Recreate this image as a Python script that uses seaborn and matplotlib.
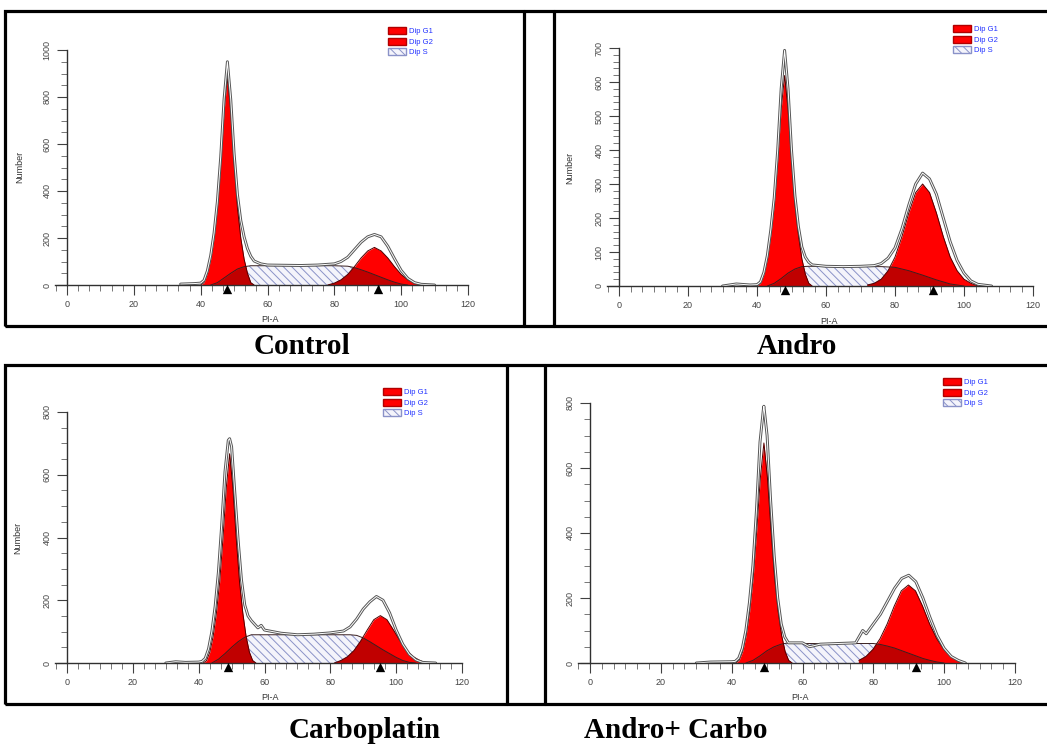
import numpy as np
import matplotlib
matplotlib.use("Agg")
import matplotlib.pyplot as plt
import seaborn as sns
from matplotlib.patches import Patch, Rectangle
from matplotlib.lines import Line2D
from matplotlib.ticker import MultipleLocator, AutoMinorLocator

# ---- data (PI-A vs Number) ----
# Control
ctrl_g1_x = [40, 41, 42, 43, 44, 45, 46, 47, 48, 49, 50, 51, 52, 53, 54, 55, 56]
ctrl_g1_y = [0, 10, 50, 110, 200, 330, 520, 740, 885, 740, 520, 330, 200, 110, 50, 10, 0]
ctrl_s_x = [43, 45, 47, 49, 51, 53, 55, 60, 70, 80, 84, 86, 88, 90, 92, 94, 96, 98, 100, 102]
ctrl_s_y = [0, 10, 30, 50, 68, 78, 82, 82, 82, 82, 80, 74, 65, 55, 44, 33, 22, 12, 4, 0]
ctrl_g2_x = [78, 80, 82, 84, 86, 88, 90, 92, 94, 96, 98, 100, 102, 104, 106]
ctrl_g2_y = [0, 8, 22, 45, 78, 115, 145, 160, 145, 115, 78, 45, 22, 8, 0]
ctrl_h_x = [34, 38, 40, 41, 42, 43, 44, 45, 46, 47, 48, 49, 50, 51, 52, 53, 54, 55, 56, 58, 60, 65,
            70, 75, 80, 82, 84, 86, 88, 90, 92, 94, 96, 98, 100, 102, 104, 106, 110]
ctrl_h_y = [4, 6, 8, 20, 60, 125, 220, 355, 545, 790, 950, 790, 560, 385, 275, 205, 155, 122, 102, 90, 85, 84,
            83, 85, 90, 100, 118, 150, 182, 205, 215, 205, 165, 112, 62, 28, 10, 3, 0]
ctrl_marks = [48, 93]

# Andro
andro_g1_x = [40, 41, 42, 43, 44, 45, 46, 47, 48, 49, 50, 51, 52, 53, 54, 55, 56]
andro_g1_y = [0, 8, 35, 80, 150, 240, 370, 520, 619, 520, 370, 240, 150, 80, 35, 8, 0]
andro_s_x = [43, 45, 47, 49, 51, 53, 55, 60, 70, 76, 80, 84, 88, 92, 96, 100]
andro_s_y = [0, 8, 22, 38, 50, 57, 58, 57, 57, 57, 55, 45, 32, 18, 6, 0]
andro_g2_x = [72, 74, 76, 78, 80, 82, 84, 86, 88, 90, 92, 94, 96, 98, 100, 102, 104]
andro_g2_y = [3, 8, 20, 45, 85, 145, 215, 275, 300, 275, 215, 145, 85, 45, 20, 8, 0]
andro_h_x = [30, 34, 38, 40, 41, 42, 43, 44, 45, 46, 47, 48, 49, 50, 51, 52, 53, 54, 55, 56, 60, 65, 70,
             74, 76, 78, 80, 82, 84, 86, 88, 90, 92, 94, 96, 98, 100, 102, 104, 108]
andro_h_y = [0, 6, 3, 4, 12, 40, 90, 165, 260, 400, 580, 693, 580, 400, 265, 175, 115, 85, 70, 62, 58, 57, 58,
             60, 66, 82, 112, 168, 238, 300, 332, 315, 270, 200, 130, 75, 38, 15, 5, 0]
andro_marks = [48, 91]

# Carboplatin
carbo_g1_x = [41.4, 42.4, 43.4, 44.4, 45.4, 46.4, 47.4, 48.4, 49.4, 50.4, 51.4, 52.4, 53.4, 54.4, 55.4, 56.4, 57.4]
carbo_g1_y = [0, 8, 35, 85, 160, 260, 400, 560, 667, 560, 400, 260, 160, 85, 35, 8, 0]
carbo_s_x = [44, 46, 48, 50, 52, 54, 56, 60, 70, 80, 86, 88, 90, 92, 94, 96, 98, 100, 102, 104, 106]
carbo_s_y = [0, 12, 30, 50, 68, 82, 90, 90, 90, 90, 90, 88, 80, 68, 55, 42, 30, 18, 8, 2, 0]
carbo_g2_x = [81.2, 83.2, 85.2, 87.2, 89.2, 91.2, 93.2, 95.2, 97.2, 99.2, 101.2, 103.2, 105.2, 107.2, 109.2]
carbo_g2_y = [0, 8, 20, 40, 70, 105, 138, 151, 138, 105, 70, 40, 20, 8, 0]
carbo_h_x = [30, 33, 36, 40, 41, 42, 43, 44, 45, 46, 47, 48, 49, 49.4, 50, 51, 52, 53, 54, 55, 56, 58,
             59, 60, 65, 70, 75, 80, 84, 86, 88, 90, 92, 94, 96, 98, 100, 102, 104, 106, 108, 112]
carbo_h_y = [0, 4, 2, 3, 5, 15, 45, 100, 180, 290, 440, 610, 710, 715, 690, 540, 390, 265, 185, 150, 135, 112,
             120, 105, 95, 90, 92, 96, 102, 115, 140, 172, 195, 212, 200, 160, 105, 60, 28, 10, 2, 0]
carbo_marks = [49, 95]

# Andro + Carbo
combo_g1_x = [41.1, 42.1, 43.1, 44.1, 45.1, 46.1, 47.1, 48.1, 49.1, 50.1, 51.1, 52.1, 53.1, 54.1, 55.1, 56.1, 57.1]
combo_g1_y = [0, 8, 35, 85, 160, 265, 410, 570, 677, 570, 410, 265, 160, 85, 35, 8, 0]
combo_s_x = [44, 46, 48, 50, 52, 54, 56, 60, 70, 80, 82, 84, 86, 88, 90, 92, 94, 96, 98, 100]
combo_s_y = [0, 8, 22, 38, 50, 58, 62, 60, 60, 60, 57, 52, 46, 38, 30, 22, 14, 8, 3, 0]
combo_g2_x = [75.9, 77.9, 79.9, 81.9, 83.9, 85.9, 87.9, 89.9, 91.9, 93.9, 95.9, 97.9, 99.9, 101.9, 103.9, 105.9]
combo_g2_y = [8, 20, 42, 75, 120, 175, 222, 240, 222, 175, 120, 75, 42, 20, 8, 0]
combo_h_x = [30, 34, 40, 41, 42, 43, 44, 45, 46, 47, 48, 49, 49.1, 50, 51, 52, 53, 54, 55, 56, 60, 62,
             65, 70, 75, 77, 78, 80, 82, 84, 86, 88, 90, 92, 94, 96, 98, 100, 102, 104, 106]
combo_h_y = [0, 3, 4, 5, 15, 45, 100, 185, 300, 470, 680, 785, 790, 700, 500, 330, 200, 120, 80, 62, 62, 50,
             58, 60, 62, 100, 90, 120, 150, 190, 230, 260, 270, 250, 200, 140, 85, 45, 20, 8, 0]
combo_marks = [49, 92]

panel_names = ["Control", "Andro", "Carboplatin", "Andro+ Carbo"]
legend_labels = ["Dip G1", "Dip G2", "Dip S"]

RED = "#ff0000"
DARK = "#c00000"
HATCH = "#8a92c8"
HATCH_BG = "#f4f4fb"

sns.set_style("ticks")
plt.rcParams["font.family"] = ["Liberation Sans", "DejaVu Sans"]
plt.rcParams["hatch.linewidth"] = 0.7

W, H = 1047, 748
fig = plt.figure(figsize=(W / 100, H / 100), dpi=100)


def add_axes(px0, px120, py0, pytop):
    sx = (px120 - px0) / 120
    left = px0 - 3.5 * sx
    return fig.add_axes([left / W, 1 - py0 / H, (px120 - left) / W, (py0 - pytop) / H])


def draw_panel(ax, g1x, g1y, sx, sy, g2x, g2y, hx, hy, marks, ymax, major, nminor):
    ax.set_xlim(-3.5, 120)
    ax.set_ylim(0, ymax)
    ax.fill_between(sx, 0, sy, facecolor=HATCH_BG, edgecolor=HATCH, hatch="\\\\\\\\", lw=0)
    g1_fill = ax.fill_between(g1x, 0, g1y, color=RED, lw=0)
    g2_fill = ax.fill_between(g2x, 0, g2y, color=RED, lw=0)
    # S phase seen through the G1 / G2 peaks is darker red
    for f in (g1_fill, g2_fill):
        d = ax.fill_between(sx, 0, sy, color=DARK, lw=0)
        d.set_clip_path(f.get_paths()[0], ax.transData)
    sns.lineplot(x=sx, y=sy, ax=ax, color="#3a2020", lw=0.7, sort=False)
    sns.lineplot(x=g1x, y=g1y, ax=ax, color="#500000", lw=0.7, sort=False)
    sns.lineplot(x=g2x, y=g2y, ax=ax, color="#500000", lw=0.7, sort=False)
    # raw histogram + fit drawn as a double outline
    sns.lineplot(x=hx, y=hy, ax=ax, color="#555555", lw=2.1, sort=False)
    sns.lineplot(x=hx, y=hy, ax=ax, color="white", lw=0.7, sort=False)
    sns.scatterplot(x=marks, y=[-0.017 * ymax] * len(marks), ax=ax, marker="^", s=45,
                    color="black", linewidth=0, clip_on=False, zorder=6)

    sns.despine(ax=ax)
    ax.spines["left"].set_position(("data", 0))
    ax.spines["left"].set_bounds(0, ymax)
    for sp in ("left", "bottom"):
        ax.spines[sp].set_color("#303030")
        ax.spines[sp].set_linewidth(1.0)
    ax.xaxis.set_major_locator(MultipleLocator(20))
    ax.xaxis.set_minor_locator(AutoMinorLocator(6))
    ax.yaxis.set_major_locator(MultipleLocator(major))
    ax.yaxis.set_minor_locator(AutoMinorLocator(nminor))
    ax.tick_params(which="major", length=7, width=0.8, color="#404040", labelsize=6.5,
                   labelcolor="#444444", pad=4)
    ax.tick_params(which="minor", length=4, width=0.6, color="#606060")
    ax.tick_params(axis="y", labelrotation=90)
    for lab in ax.get_yticklabels():
        lab.set_va("center")
    ax.set_xlabel("")
    ax.set_ylabel("")
    ax.patch.set_alpha(0)


def add_legend(ax, px, py):
    handles = [Patch(facecolor=RED, edgecolor="#b00000", label=legend_labels[0]),
               Patch(facecolor=RED, edgecolor="#b00000", label=legend_labels[1]),
               Patch(facecolor=HATCH_BG, edgecolor=HATCH, hatch="\\\\\\\\", label=legend_labels[2])]
    ax.legend(handles=handles, loc="upper left", bbox_to_anchor=(px / W, 1 - py / H),
              bbox_transform=fig.transFigure, frameon=False, fontsize=5.5, labelcolor="#2030ff",
              handlelength=2.3, handleheight=1.1, labelspacing=0.3, handletextpad=0.5,
              borderpad=0, borderaxespad=0)


def add_text(px, py, s, **kw):
    fig.text(px / W, 1 - py / H, s, **kw)


ax1 = add_axes(67, 468, 285, 50)
draw_panel(ax1, ctrl_g1_x, ctrl_g1_y, ctrl_s_x, ctrl_s_y, ctrl_g2_x, ctrl_g2_y,
           ctrl_h_x, ctrl_h_y, ctrl_marks, 1000, 200, 4)
add_legend(ax1, 388, 27)

ax2 = add_axes(619, 1033, 286, 48)
draw_panel(ax2, andro_g1_x, andro_g1_y, andro_s_x, andro_s_y, andro_g2_x, andro_g2_y,
           andro_h_x, andro_h_y, andro_marks, 700, 100, 5)
add_legend(ax2, 953, 25)

ax3 = add_axes(67, 462, 663, 412)
draw_panel(ax3, carbo_g1_x, carbo_g1_y, carbo_s_x, carbo_s_y, carbo_g2_x, carbo_g2_y,
           carbo_h_x, carbo_h_y, carbo_marks, 800, 200, 4)
add_legend(ax3, 383, 388)

ax4 = add_axes(590, 1015, 663, 403)
draw_panel(ax4, combo_g1_x, combo_g1_y, combo_s_x, combo_s_y, combo_g2_x, combo_g2_y,
           combo_h_x, combo_h_y, combo_marks, 800, 200, 4)
add_legend(ax4, 943, 378)

# axis titles
small = dict(fontsize=6.5, color="#333333", ha="center", va="center")
add_text(20, 167, "Number", rotation=90, **small)
add_text(570, 168, "Number", rotation=90, **small)
add_text(18, 538, "Number", rotation=90, **small)
add_text(270, 319, "PI-A", **small)
add_text(829, 321, "PI-A", **small)
add_text(270, 697, "PI-A", **small)
add_text(800, 697, "PI-A", **small)

# panel frames
frame = dict(transform=fig.transFigure, color="black", lw=2.3)
for (x0, y0, x1, y1) in [(5, 11, 1052, 326), (5, 365, 1052, 704)]:
    fig.add_artist(Rectangle((x0 / W, 1 - y1 / H), (x1 - x0) / W, (y1 - y0) / H,
                             transform=fig.transFigure, fill=False, ec="black", lw=2.3))
for (x, y0, y1) in [(524, 11, 326), (554, 11, 326), (507, 365, 704), (545, 365, 704)]:
    fig.add_artist(Line2D([x / W, x / W], [1 - y0 / H, 1 - y1 / H], **frame))

# panel captions
cap = dict(fontsize=21, fontweight="bold", family=["Liberation Serif", "DejaVu Serif"],
           color="black", ha="center", va="center")
add_text(302, 347, panel_names[0], **cap)
add_text(797, 347, panel_names[1], **cap)
add_text(365, 730, panel_names[2], **cap)
add_text(676, 730, panel_names[3], **cap)

fig.savefig("out.png", dpi=100)
